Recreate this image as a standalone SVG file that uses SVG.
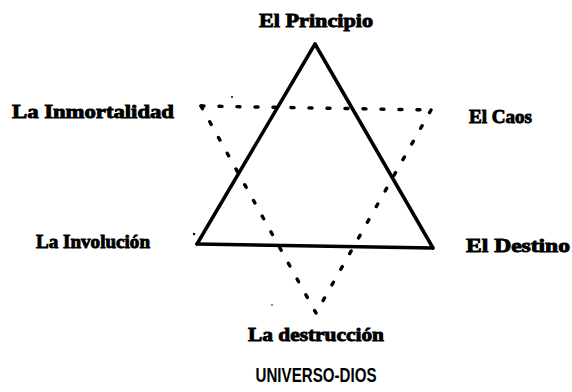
<svg xmlns="http://www.w3.org/2000/svg" width="572" height="392" viewBox="0 0 572 392">
<style>
.lbl{font-family:"Liberation Serif","DejaVu Serif",serif;font-weight:bold;font-size:19px;fill:#000;stroke:#000;stroke-width:0.9px}
.ttl{font-family:"Liberation Sans","DejaVu Sans",sans-serif;font-weight:bold;font-size:20px;fill:#000}
.solid{stroke:#000;stroke-width:3.5;fill:none;stroke-linecap:round}
.dot{stroke:#000;stroke-width:3.4;fill:none;stroke-dasharray:3 15;stroke-linecap:round}
.speck{fill:#000}
</style>
<rect width="572" height="392" fill="#fff"/>
<g id="connectors">
  <line class="solid" x1="315" y1="44" x2="197" y2="244"/>
  <line class="solid" x1="315" y1="44" x2="433" y2="248"/>
  <line class="solid" x1="197" y1="244" x2="433" y2="248"/>
  <line class="dot" x1="201" y1="106" x2="431" y2="110"/>
  <line class="dot" x1="201" y1="106" x2="316" y2="313"/>
  <line class="dot" x1="431" y1="110" x2="316" y2="313"/>
</g>
<g id="specks">
  <circle class="speck" cx="232" cy="97" r="1"/>
  <circle class="speck" cx="194" cy="234" r="1.2"/>
  <circle class="speck" cx="272" cy="305" r="0.8"/>
</g>
<g id="el-principio"><text class="lbl" x="316" y="27" text-anchor="middle" textLength="114" lengthAdjust="spacingAndGlyphs">El Principio</text></g>
<g id="la-inmortalidad"><text class="lbl" x="12" y="118" textLength="162" lengthAdjust="spacingAndGlyphs">La Inmortalidad</text></g>
<g id="el-caos"><text class="lbl" x="469" y="123" textLength="63" lengthAdjust="spacingAndGlyphs">El Caos</text></g>
<g id="la-involucion"><text class="lbl" x="36" y="248" textLength="114" lengthAdjust="spacingAndGlyphs">La Involución</text></g>
<g id="el-destino"><text class="lbl" x="466" y="252" textLength="104" lengthAdjust="spacingAndGlyphs">El Destino</text></g>
<g id="la-destruccion"><text class="lbl" x="316" y="341" text-anchor="middle" textLength="136" lengthAdjust="spacingAndGlyphs">La destrucción</text></g>
<g id="universo-dios"><text class="ttl" x="316" y="382" text-anchor="middle" textLength="121" lengthAdjust="spacingAndGlyphs">UNIVERSO-DIOS</text></g>
</svg>
